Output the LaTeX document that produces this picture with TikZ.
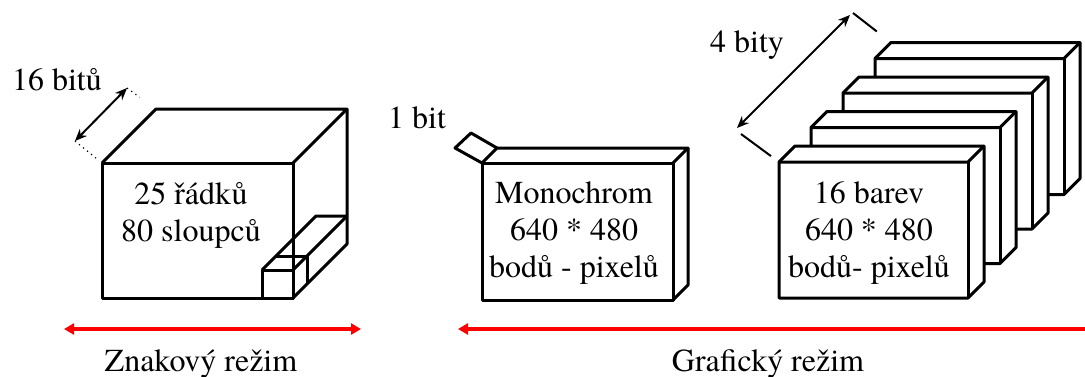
\documentclass[tikz,border=0pt]{standalone}
\usepackage{fontspec}
\setmainfont{texgyretermes}[Extension=.otf, UprightFont=*-regular]
\usetikzlibrary{arrows.meta, positioning}
\tikzstyle{edge} = [draw, line width=1.5pt, line join=round]
\tikzstyle{plane} = [edge, fill=white]
\tikzstyle{dim} = [draw, {Stealth[length=6pt,width=5pt]}-{Stealth[length=6pt,width=5pt]}, line width=1pt]
\tikzstyle{lbl} = [inner sep=0pt, font=\fontsize{16}{18.5}\selectfont]
\tikzstyle{boxtext} = [lbl, align=center]

\begin{document}
\begin{tikzpicture}[x=0.5pt, y=-0.5pt]

    \tikzstyle{helper} = [draw, dotted, line width=0.6pt];
    \tikzstyle{moderow} = [draw=red, line width=2pt];
    \tikzstyle{redtip} = [Triangle[length=5pt,width=5.5pt]];

    \useasboundingbox (0,0) rectangle (1085,376);
    %\draw [help lines, step=50] (0,0) grid (1085,376);

    % text mode
    \draw [edge] (102,163) rectangle (293,298);
    \draw [edge] (102,163) -- (156,109) -- (347,109) -- (293,163);
    \draw [edge] (347,109) -- (347,244) -- (293,298);
    \draw [edge] (262,298) -- (262,270) -- (293,270);
    \draw [edge] (262,270) -- (316,216) -- (347,216);
    \draw [edge] (293,270) -- (347,216);
    \draw [edge] (276,256) -- (307,256) -- (307,284);

    \node [boxtext] (textinfo) at (191,215) {25 řádků\\80 sloupců};

    \coordinate (tfront) at (102,163);
    \coordinate (tback) at (156,109);
    \coordinate (bitsA) at (75,141);
    \coordinate (bitsB) at (127,88);
    \draw [dim] (bitsA) -- (bitsB);
    \draw [helper, shorten >=2pt] (bitsA) -- (tfront);
    \draw [helper, shorten >=10pt] (bitsB) -- (tback);
    \node [lbl, anchor=base] (bits16) at (57,90) {16 bitů};

    % monochrome
    \draw [edge] (482,163) rectangle (673,300);
    \draw [edge] (482,163) -- (497,148) -- (688,148) -- (673,163);
    \draw [edge] (688,148) -- (688,285) -- (673,300);
    \draw [edge] (482,163) -- (455,148) -- (471,133) -- (497,148);

    \node [boxtext] (monoinfo) at (574,233) {Monochrom\\640 * 480\\bodů - pixelů};
    \node [lbl, anchor=base] (bit1) at (417,128) {1 bit};

    % 16 colours, back to front
    \draw [plane] (875,58.5) -- (891,42.5) -- (1080,42.5) -- (1080,178.5) -- (1064,194.5) -- (875,194.5) -- cycle;
    \draw [edge] (875,58.5) -- (1064,58.5) -- (1080,42.5);
    \draw [edge] (1064,58.5) -- (1064,194.5);

    \draw [plane] (843,93) -- (859,77) -- (1048,77) -- (1048,213) -- (1032,229) -- (843,229) -- cycle;
    \draw [edge] (843,93) -- (1032,93) -- (1048,77);
    \draw [edge] (1032,93) -- (1032,229);

    \draw [plane] (811,127.5) -- (827,111.5) -- (1016,111.5) -- (1016,247.5) -- (1000,263.5) -- (811,263.5) -- cycle;
    \draw [edge] (811,127.5) -- (1000,127.5) -- (1016,111.5);
    \draw [edge] (1000,127.5) -- (1000,263.5);

    \draw [plane] (779,162) -- (795,146) -- (984,146) -- (984,282) -- (968,298) -- (779,298) -- cycle;
    \draw [edge] (779,162) -- (968,162) -- (984,146);
    \draw [edge] (968,162) -- (968,298);

    \node [boxtext] (colorinfo) at (869,233) {16 barev\\640 * 480\\bodů- pixelů};

    \coordinate (cfront) at (779,162);
    \coordinate (cback) at (891,42.5);
    \coordinate (fourA) at (737,128);
    \coordinate (fourB) at (850,15);
    \coordinate (fourAx) at (741,134);
    \coordinate (fourBx) at (853,13);
    \draw [dim] (fourA) -- (fourB);
    \draw [edge, line width=1pt, shorten >=5pt] (fourAx) -- (cfront);
    \draw [edge, line width=1pt, shorten >=9pt] (fourBx) -- (cback);
    \node [lbl, anchor=base] (bits4) at (747,52) {4 bity};

    % modes
    \coordinate (txtL) at (64,329);
    \coordinate (txtR) at (361,329);
    \coordinate (grfL) at (458,329);
    \coordinate (grfR) at (1086,329);
    \draw [moderow, {Triangle[length=5pt,width=5.5pt]}-{Triangle[length=5pt,width=5.5pt]}] (txtL) -- (txtR);
    \draw [moderow, {Triangle[length=5pt,width=5.5pt]}-] (grfL) -- (grfR);

    \node [lbl, anchor=base] (textmode) at (201,371) {Znakový režim};
    \node [lbl, anchor=base] (graphmode) at (768,371) {Grafický režim};

\end{tikzpicture}
\end{document}
